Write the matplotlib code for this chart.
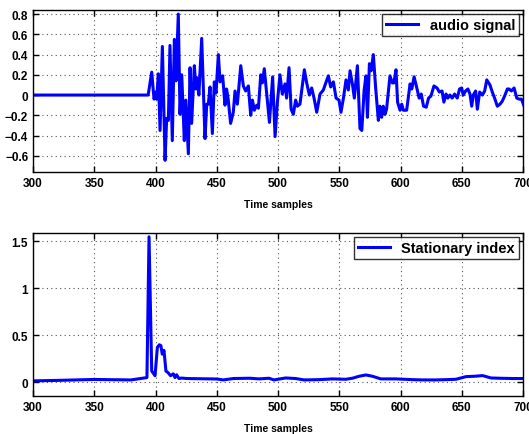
import matplotlib
matplotlib.use("Agg")
import matplotlib.pyplot as plt
import numpy as np

plt.rcParams['font.family'] = ['Liberation Sans', 'DejaVu Sans']
plt.rcParams['font.weight'] = 'bold'

# audio signal (time sample, amplitude)
audio_t = [300, 394, 396.9, 398.8, 400.4, 401, 402.3, 403.7, 405.6, 407.8, 409.1, 410.5,
           411.8, 413.7, 415.4, 416.7, 418.6, 420, 421.4, 423.5, 424.7, 426.8, 428.2,
           429.5, 431.7, 433, 434, 435.4, 437.7, 440.4, 441.8, 443.1, 444.5, 446.4, 448,
           449.4, 451.3, 452.7, 454.8, 456.7, 458, 459.3, 461.3, 463.5, 464.9, 466.8,
           469.6, 471.7, 473.6, 475.8, 477.7, 479.1, 480.7, 482.6, 484, 485.9, 487.2,
           488.8, 490.5, 493, 495.6, 497.6, 499.5, 501.6, 503.5, 505.7, 507, 509, 510.7,
           512.5, 514.4, 515.8, 517.9, 521.5, 523.4, 525.6, 527.5, 529.4, 531.6, 534.3,
           537, 539, 541.1, 543, 545.2, 547.4, 549.8, 551.4, 553.4, 555.5, 557.4, 558.8,
           560.7, 562.3, 564.8, 566.9, 568.4, 570.3, 571.8, 573, 574.6, 576, 577.8, 579.7,
           581.9, 583.2, 584.6, 585.9, 587.3, 588.6, 591.4, 593.3, 594.6, 596.3, 597.6,
           599.6, 601, 602.3, 605, 607.8, 609.2, 611.1, 613.3, 615.2, 616.9, 618.8, 621,
           622.9, 624.8, 627.3, 629.8, 631.7, 633.9, 635.4, 637.2, 638.6, 640.3, 642.2,
           644.1, 646.3, 648.2, 649.9, 651.2, 653.1, 655, 656.7, 658.1, 659.4, 661.3,
           662.7, 664.6, 666.8, 668.7, 670.4, 673, 674.9, 676.8, 679, 681.2, 683.1, 685.3,
           687.2, 688.6, 690.5, 692.7, 694.9, 696.8, 698.7, 700.9]
audio_v = [0, 0, 0.226, -0.04, 0.03, -0.04, 0.21, -0.35, 0.48, -0.645, -0.23, -0.25,
           0.49, -0.45, 0.55, 0.14, 0.80, -0.19, 0.20, -0.45, -0.05, -0.58, 0.27,
           -0.28, 0.29, 0.06, 0.17, 0.0, 0.56, -0.43, -0.09, -0.09, 0.08, -0.38, 0.13,
           0.02, 0.40, 0.13, 0.19, -0.10, 0.06, -0.04, -0.28, -0.17, 0.04, -0.09,
           0.29, 0.09, 0.04, 0.09, -0.20, -0.05, -0.15, -0.10, -0.13, 0.20, 0.12,
           0.26, 0.05, -0.27, 0.18, -0.41, -0.07, 0.20, 0.01, 0.11, -0.03, 0.27, -0.14,
           -0.19, -0.05, -0.11, -0.09, 0.25, 0.12, 0.0, 0.07, -0.03, -0.17, 0.01,
           0.05, 0.12, 0.19, 0.08, 0.13, -0.03, -0.05, -0.17, -0.03, 0.15, 0.05, 0.24,
           0.11, -0.03, 0.29, -0.33, -0.35, 0.05, 0.19, -0.22, 0.31, 0.24, 0.40, 0.07,
           -0.25, -0.11, -0.22, -0.11, -0.19, -0.14, 0.19, 0.12, 0.12, 0.25, -0.07,
           -0.15, -0.09, -0.15, -0.15, 0.11, 0.06, 0.18, 0.07, -0.03, 0.01, -0.11, -0.12,
           -0.03, -0.01, 0.09, 0.07, 0.03, 0.04, -0.07, 0.01, -0.03, 0.0, -0.03,
           0.01, -0.03, 0.06, 0.07, 0.0, 0.04, 0.06, 0.01, -0.11, 0.0, 0.04,
           -0.14, 0.03, 0.0, 0.04, 0.15, 0.10, 0.03, -0.03, -0.11, -0.09, -0.06, 0.0,
           0.06, 0.06, 0.04, 0.07, -0.03, -0.04, -0.04, -0.11]

# stationary index (time sample, value)
stat_t = [300, 320, 350, 380, 393, 394.7, 396.9, 399.6, 401.5, 403.1, 404.4, 405.5,
          406.9, 408.5, 410.4, 412.3, 414.5, 415.9, 417.2, 419.1, 421.3, 425.4, 450,
          455.4, 463.6, 477, 484.4, 492.6, 496.7, 506.2, 514.4, 521.2, 533.5, 544.4,
          555.3, 560.7, 566.2, 571.7, 577.1, 583.9, 596.2, 609.8, 618, 628.9, 637,
          645.2, 653.4, 660.2, 667, 673.8, 680.7, 691.6, 700]
stat_v = [0.015, 0.02, 0.03, 0.025, 0.05, 1.55, 0.12, 0.07, 0.37, 0.40, 0.39, 0.30,
          0.34, 0.12, 0.10, 0.07, 0.09, 0.05, 0.08, 0.04, 0.045, 0.04, 0.035,
          0.025, 0.04, 0.043, 0.036, 0.043, 0.025, 0.046, 0.04, 0.025, 0.028, 0.036,
          0.032, 0.043, 0.064, 0.078, 0.064, 0.036, 0.036, 0.028, 0.025, 0.025, 0.028,
          0.032, 0.06, 0.064, 0.071, 0.046, 0.043, 0.04, 0.04]

fig = plt.figure(figsize=(5.29, 4.35), dpi=100)
ax1 = fig.add_axes([0.0624, 0.6023, 0.9263, 0.3724])
ax2 = fig.add_axes([0.0624, 0.0874, 0.9263, 0.3746])

def style(ax):
    ax.set_xlim(300, 700)
    ax.set_xticks(np.arange(300, 701, 50))
    ax.grid(True, linestyle=(0, (1, 3)), color='#555555', linewidth=0.8)
    ax.tick_params(direction='in', labelsize=8.5, length=4, width=1,
                   top=True, right=True)
    for s in ax.spines.values():
        s.set_linewidth(1.0)
    ax.set_xlabel('Time samples', fontsize=7.5, fontweight='bold', labelpad=7)
    for lbl in ax.get_xticklabels() + ax.get_yticklabels():
        lbl.set_fontweight('bold')

ax1.plot(audio_t, audio_v, color='#0000ff', linewidth=2.2, label='audio signal')
ax1.set_ylim(-0.76, 0.84)
ax1.set_yticks([-0.6, -0.4, -0.2, 0, 0.2, 0.4, 0.6, 0.8])
ax1.set_yticklabels(['−0.6', '−0.4', '−0.2', '0', '0.2', '0.4', '0.6', '0.8'])
style(ax1)
leg1 = ax1.legend(loc='upper right', fancybox=False, edgecolor='black',
                  prop={'weight': 'bold', 'size': 10.5}, handlelength=2.2,
                  borderpad=0.25, borderaxespad=0.3)
leg1.get_frame().set_linewidth(1.0)

ax2.plot(stat_t, stat_v, color='#0000ff', linewidth=2.2, label='Stationary index')
ax2.set_ylim(-0.146, 1.59)
ax2.set_yticks([0, 0.5, 1, 1.5])
ax2.set_yticklabels(['0', '0.5', '1', '1.5'])
style(ax2)
leg2 = ax2.legend(loc='upper right', fancybox=False, edgecolor='black',
                  prop={'weight': 'bold', 'size': 10.5}, handlelength=2.2,
                  borderpad=0.25, borderaxespad=0.3)
leg2.get_frame().set_linewidth(1.0)

fig.savefig('out.png', dpi=100)
